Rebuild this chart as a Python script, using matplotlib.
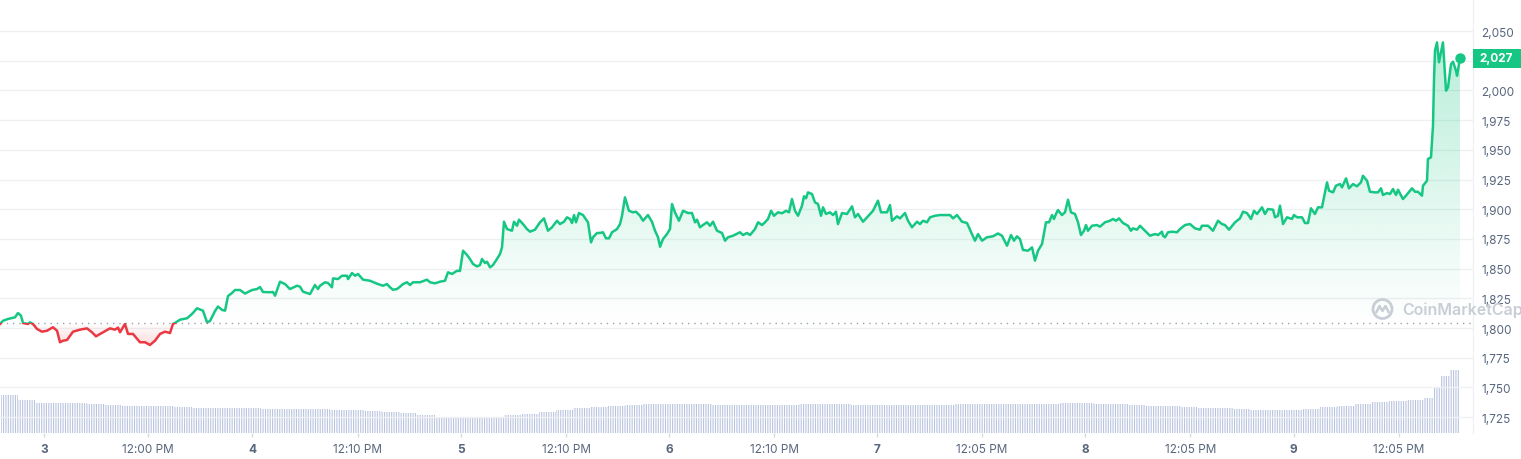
import numpy as np
import matplotlib
matplotlib.use("Agg")
import matplotlib.pyplot as plt
import matplotlib.colors as mcolors
from matplotlib.patches import Rectangle, PathPatch, Circle
from matplotlib.path import Path
from matplotlib.lines import Line2D
from matplotlib.transforms import blended_transform_factory, IdentityTransform
from matplotlib.ticker import FuncFormatter

# ---------------- data (hours since day "3" 00:00) ----------------
hours = [-5.07, -4.72, -4.15, -3.34, -3.00, -2.65, -2.42, -1.84, -1.61, -1.27, -0.81, -0.23,
         0.35, 0.69, 1.04, 1.50, 1.84, 2.19, 2.65, 3.00, 3.34, 4.15, 4.95, 5.53, 5.99, 6.80,
         7.60, 8.18, 8.53, 8.76, 9.33, 9.68, 10.25, 11.06, 11.64, 12.21, 12.79, 13.37, 13.94,
         14.52, 14.86, 15.21, 15.67, 16.48, 17.05, 17.63, 17.97, 18.32, 18.78, 19.13, 19.70,
         20.05, 20.51, 20.86, 21.20, 21.66, 22.01, 22.58, 23.16, 23.97, 24.54, 24.89, 25.23,
         26.04, 26.39, 26.62, 27.19, 27.77, 28.34, 29.15, 29.50, 29.84, 30.65, 31.22, 31.57,
         31.80, 32.38, 32.72, 33.18, 33.30, 33.87, 34.34, 34.91, 35.03, 35.49, 35.83, 36.18,
         36.76, 37.56, 38.48, 39.06, 39.52, 39.87, 40.21, 40.67, 41.02, 41.36, 41.83, 42.17,
         42.52, 43.32, 44.13, 44.48, 45.05, 45.63, 46.20, 46.55, 47.01, 47.59, 47.93, 48.28,
         48.74, 49.08, 49.43, 49.89, 50.24, 50.47, 50.81, 51.04, 51.39, 51.73, 52.19, 52.54,
         52.77, 53.00, 53.35, 53.92, 54.15, 54.50, 54.73, 55.19, 55.65, 56.00, 56.57, 57.15,
         57.61, 58.07, 58.53, 59.11, 59.45, 59.91, 60.26, 60.61, 60.84, 61.07, 61.30, 61.64,
         62.10, 62.68, 63.03, 63.26, 63.72, 64.06, 64.41, 64.75, 65.10, 65.45, 66.02, 66.37,
         66.60, 66.94, 67.40, 67.86, 68.21, 68.67, 69.02, 69.59, 70.05, 70.40, 70.75, 70.98,
         71.32, 71.78, 72.13, 72.36, 72.70, 73.16, 73.63, 74.20, 74.66, 75.01, 75.24, 75.58,
         75.93, 76.39, 76.74, 77.08, 77.54, 78.12, 78.47, 78.81, 79.39, 80.19, 80.54, 81.00,
         81.35, 81.92, 82.27, 82.73, 83.07, 83.42, 83.77, 84.11, 84.57, 85.03, 85.49, 85.84,
         86.18, 86.53, 86.88, 87.34, 87.57, 87.80, 88.03, 88.49, 88.83, 89.18, 89.53, 89.76,
         90.10, 90.56, 90.91, 91.25, 91.48, 91.95, 92.52, 93.10, 93.44, 93.79, 94.37, 94.94,
         95.52, 96.09, 96.44, 97.13, 97.48, 97.71, 98.28, 98.63, 99.20, 99.55, 100.01, 100.59,
         100.93, 101.28, 101.74, 102.09, 102.66, 103.24, 103.81, 104.39, 104.74, 105.20,
         105.77, 106.35, 106.69, 106.92, 107.27, 107.62, 108.08, 108.65, 109.34, 109.92,
         110.38, 110.96, 111.42, 111.76, 112.11, 112.45, 112.80, 113.38, 113.84, 114.18,
         114.53, 114.99, 115.10, 115.45, 115.80, 116.14, 116.37, 116.60, 116.83, 117.29,
         117.64, 117.99, 118.33, 118.79, 119.14, 119.48, 119.83, 120.06, 120.29, 120.75,
         121.33, 121.67, 122.25, 122.82, 123.17, 123.52, 123.86, 124.32, 124.90, 125.24,
         125.47, 125.94, 126.28, 126.86, 127.43, 128.01, 128.36, 128.82, 128.93, 129.16,
         129.51, 129.97, 130.54, 130.89, 131.47, 132.04, 132.62, 133.19, 133.42, 134.12,
         134.69, 135.27, 135.73, 136.07, 136.54, 137.23, 137.80, 138.15, 138.61, 139.07,
         139.42, 139.76, 140.34, 140.68, 141.03, 141.61, 141.84, 142.18, 142.41, 142.76,
         143.22, 143.79, 144.02, 144.37, 144.95, 145.29, 145.64, 145.98, 146.44, 146.79,
         147.25, 147.83, 148.06, 148.52, 148.86, 149.32, 149.56, 150.02, 150.36, 150.82,
         151.28, 151.74, 151.97, 152.44, 152.78, 153.36, 153.70, 154.05, 154.28, 154.74,
         155.09, 155.43, 155.78, 156.01, 156.58, 156.93, 157.62, 157.97, 158.31, 158.77,
         158.89, 159.35, 159.46, 159.81, 160.04, 160.16, 160.27, 160.50, 160.73, 161.08,
         161.19, 161.54, 161.77, 162.12, 162.35, 162.69, 162.81, 163.15]

price = [1803.4, 1806.1, 1807.6, 1809.0, 1812.6, 1810.4, 1804.2, 1803.4, 1804.8, 1803.4, 1799.2, 1796.9,
         1797.7, 1799.2, 1800.6, 1797.7, 1788.0, 1789.3, 1789.9, 1793.5, 1796.9, 1798.6, 1799.7, 1796.4,
         1793.0, 1796.4, 1799.7, 1798.6, 1800.3, 1796.4, 1803.4, 1795.0, 1795.0, 1788.0, 1788.0, 1785.7,
         1789.3, 1795.0, 1796.9, 1795.8, 1803.4, 1804.8, 1807.0, 1808.2, 1811.8, 1816.6, 1815.6, 1814.6,
         1804.8, 1805.9, 1814.3, 1818.1, 1815.2, 1814.6, 1826.9, 1829.5, 1832.0, 1832.0, 1829.0, 1832.0,
         1832.8, 1834.5, 1830.3, 1830.1, 1830.3, 1827.2, 1839.0, 1837.0, 1832.8, 1835.6, 1834.8, 1830.6,
         1828.6, 1836.2, 1832.8, 1835.6, 1838.5, 1837.9, 1834.3, 1841.8, 1841.2, 1844.0, 1844.0, 1841.2,
         1846.3, 1844.0, 1845.5, 1840.7, 1839.8, 1837.0, 1835.6, 1837.0, 1834.3, 1832.2, 1832.8, 1834.8,
         1837.0, 1838.5, 1836.2, 1838.5, 1838.5, 1840.7, 1838.5, 1837.6, 1839.0, 1839.8, 1846.9, 1845.5,
         1848.2, 1848.0, 1865.1, 1861.5, 1858.1, 1853.9, 1851.9, 1853.0, 1858.1, 1854.7, 1855.8, 1851.1,
         1853.0, 1858.1, 1862.3, 1867.9, 1889.5, 1883.3, 1881.9, 1889.5, 1886.1, 1891.2, 1887.5, 1883.3,
         1881.1, 1882.8, 1889.0, 1892.3, 1881.9, 1884.8, 1890.3, 1887.5, 1889.5, 1893.2, 1891.8, 1888.4,
         1895.1, 1889.0, 1896.8, 1895.1, 1889.0, 1872.1, 1876.4, 1880.0, 1880.0, 1880.6, 1875.5, 1875.5,
         1880.6, 1883.3, 1887.5, 1894.5, 1910.0, 1898.7, 1897.4, 1897.9, 1894.5, 1890.3, 1895.1, 1889.5,
         1881.9, 1876.4, 1868.4, 1874.9, 1879.1, 1883.3, 1904.4, 1897.4, 1890.3, 1898.7, 1896.8, 1896.8,
         1889.0, 1891.2, 1884.8, 1886.7, 1889.0, 1886.1, 1889.5, 1881.9, 1880.0, 1873.5, 1876.4, 1877.7,
         1880.6, 1878.3, 1880.0, 1878.3, 1883.3, 1889.0, 1886.7, 1889.0, 1891.8, 1898.7, 1894.5, 1897.4,
         1896.6, 1898.7, 1897.4, 1908.6, 1898.7, 1894.5, 1903.0, 1910.9, 1909.2, 1914.2, 1912.8, 1905.8,
         1904.4, 1894.5, 1901.6, 1896.0, 1897.4, 1895.1, 1897.9, 1887.5, 1896.8, 1896.0, 1902.4, 1893.2,
         1896.0, 1889.5, 1894.0, 1898.7, 1907.2, 1897.4, 1897.4, 1903.5, 1890.3, 1894.0, 1892.3, 1896.8,
         1890.3, 1884.8, 1889.5, 1887.5, 1890.3, 1889.0, 1893.2, 1894.5, 1895.1, 1895.1, 1895.1, 1892.3,
         1895.1, 1889.5, 1888.4, 1882.8, 1879.1, 1873.5, 1879.1, 1873.5, 1876.4, 1877.2, 1879.6, 1877.7,
         1869.3, 1878.3, 1873.5, 1877.2, 1874.9, 1865.7, 1865.1, 1867.9, 1856.7, 1865.1, 1870.7, 1874.9,
         1889.0, 1889.0, 1895.1, 1891.8, 1896.0, 1899.3, 1895.1, 1897.4, 1908.0, 1897.4, 1896.0, 1889.0,
         1878.3, 1881.9, 1886.7, 1881.9, 1886.1, 1886.7, 1885.3, 1889.0, 1890.3, 1891.8, 1890.3, 1892.3,
         1888.4, 1886.1, 1881.9, 1883.9, 1882.8, 1886.1, 1881.9, 1877.7, 1879.1, 1878.3, 1881.1, 1877.7,
         1876.4, 1880.6, 1881.1, 1880.6, 1883.3, 1886.7, 1887.5, 1883.9, 1882.8, 1886.1, 1886.1, 1881.9,
         1890.3, 1887.5, 1886.7, 1882.8, 1889.0, 1892.3, 1897.9, 1896.8, 1891.8, 1898.7, 1896.0, 1901.6,
         1896.0, 1900.2, 1899.6, 1893.2, 1894.5, 1903.0, 1887.5, 1893.2, 1891.8, 1895.1, 1893.2, 1893.2,
         1888.4, 1888.4, 1900.8, 1896.0, 1901.6, 1901.6, 1922.6, 1915.6, 1914.2, 1919.8, 1921.2, 1918.4,
         1926.0, 1917.6, 1921.2, 1919.3, 1922.6, 1928.2, 1924.0, 1914.7, 1914.2, 1914.2, 1917.6, 1912.0,
         1913.6, 1912.8, 1917.0, 1912.0, 1916.4, 1908.6, 1911.4, 1917.6, 1914.7, 1914.7, 1911.4, 1919.8,
         1924.0, 1942.3, 1943.7, 1970.3, 2009.6, 2033.4, 2040.5, 2023.7, 2036.3, 2040.5, 1999.8, 2002.6,
         2022.2, 2024.2, 2016.6, 2012.4, 2027.0]

baseline_price = 1804.2

# volume (billions USD), bars with left edges in hours
vol_edges = [-5, -3, -1, 1, 3, 5, 7, 9, 11, 13, 15, 17, 19, 21, 23, 25, 27, 29, 31, 33, 35, 37, 39,
             41, 43, 45, 47, 49, 51, 53, 55, 57, 59, 61, 63, 65, 67, 69, 71, 73, 75, 77, 79, 81, 83,
             85, 87, 89, 91, 93, 95, 97, 99, 101, 103, 105, 107, 109, 111, 113, 115, 117, 119, 121,
             123, 125, 127, 129, 131, 133, 135, 137, 139, 141, 143, 145, 147, 149, 151, 153, 155,
             156, 157, 158, 159, 160, 161, 162, 163]
volume = [11.55, 10.05, 9.15, 9.0, 9.0, 8.7, 8.55, 8.1, 8.1, 8.1, 7.8, 7.5, 7.5, 7.5, 7.5, 7.35,
          7.2, 7.2, 7.2, 7.05, 6.9, 6.6, 6.45, 6.0, 5.4, 4.95, 4.71, 4.89, 4.95, 5.4, 5.85, 6.3,
          6.9, 7.5, 7.95, 8.25, 8.55, 8.7, 8.85, 8.85, 8.7, 8.55, 8.55, 8.55, 8.55, 8.55, 8.7, 8.7,
          8.7, 8.55, 8.55, 8.55, 8.55, 8.55, 8.55, 8.7, 8.85, 8.7, 8.7, 8.7, 8.85, 9.0, 9.0, 8.85,
          8.7, 8.4, 8.25, 8.1, 7.95, 7.65, 7.5, 7.2, 7.05, 6.9, 6.9, 7.2, 7.8, 8.25, 8.7, 9.3,
          9.69, 9.75, 9.9, 10.05, 10.65, 13.5, 17.1, 18.9]

y_ticks = [1725, 1750, 1775, 1800, 1825, 1850, 1875, 1900, 1925, 1950, 1975, 2000, 2025, 2050]
x_tick_hours = [0, 12.0, 24, 36.167, 48, 60.167, 72, 84.167, 96, 108.083, 120, 132.083, 144, 156.083]
x_tick_labels = ["3", "12:00 PM", "4", "12:10 PM", "5", "12:10 PM", "6", "12:10 PM",
                 "7", "12:05 PM", "8", "12:05 PM", "9", "12:05 PM"]

# ---------------- style ----------------
plt.rcParams['font.family'] = ['Inter', 'DejaVu Sans']
plt.rcParams['hatch.linewidth'] = 0.8
GREEN = '#16c784'
RED = '#ea3943'
GRID = '#eef0f3'
TXT = '#58667e'
VOLC = '#b9c4df'

W, H = 1521, 460
fig = plt.figure(figsize=(W / 100, H / 100), dpi=100)
fig.patch.set_facecolor('white')

ax_left, ax_right = 0, 1473
ax_bottom_px = 434
ax_vol = fig.add_axes([ax_left / W, (H - ax_bottom_px) / H, (ax_right - ax_left) / W, 100 / H])
ax = fig.add_axes([ax_left / W, (H - ax_bottom_px) / H, (ax_right - ax_left) / W, ax_bottom_px / H])
ax.patch.set_alpha(0)
ax.set_zorder(2)
ax_vol.set_zorder(1)

t = np.array(hours)
p = np.array(price)
XLIM = (-5.07, 164.65)
YLIM = (1711.6, 2077.0)

# volume bars
edges = np.array(vol_edges, dtype=float)
ax_vol.bar(edges[:-1], volume, width=np.diff(edges), align='edge', facecolor='none',
           edgecolor=VOLC, linewidth=0, hatch='|' * 7)
ax_vol.set_xlim(*XLIM)
ax_vol.set_ylim(0, 30)
ax_vol.axis('off')


def gradient_area(ax, t, p, base, where, color, a_far, far):
    coll = ax.fill_between(t, p, base, where=where, interpolate=True)
    paths = coll.get_paths()
    coll.remove()
    clip = PathPatch(Path.make_compound_path(*paths), transform=ax.transData,
                     facecolor='none', edgecolor='none')
    ax.add_patch(clip)
    rgb = mcolors.to_rgb(color)
    n = 256
    img = np.zeros((n, 1, 4))
    img[..., :3] = rgb
    lo, hi = sorted([base, far])
    img[:, 0, 3] = np.linspace(0, a_far, n) if far > base else np.linspace(a_far, 0, n)
    im = ax.imshow(img, extent=[t[0], t[-1], lo, hi], origin='lower', aspect='auto',
                   zorder=1, interpolation='bilinear')
    im.set_clip_path(clip)


gradient_area(ax, t, p, baseline_price, p >= baseline_price, GREEN, 0.30, p.max())
gradient_area(ax, t, p, baseline_price, p <= baseline_price, RED, 0.18, p.min())

# price line coloured above / below baseline
up = Rectangle((-100, baseline_price), 400, 1000, transform=ax.transData)
dn = Rectangle((-100, baseline_price - 1000), 400, 1000, transform=ax.transData)
lg, = ax.plot(t, p, color=GREEN, lw=1.8, zorder=3, solid_joinstyle='round')
lg.set_clip_path(up)
lr, = ax.plot(t, p, color=RED, lw=1.8, zorder=3, solid_joinstyle='round')
lr.set_clip_path(dn)
ax.plot(t[-1:], p[-1:], 'o', color=GREEN, ms=6.5, zorder=4, clip_on=False)

# baseline
ax.axhline(baseline_price, color='#99a1ae', lw=1.0, linestyle=(0, (1, 3.5)), zorder=2)

# axes styling
ax.set_xlim(*XLIM)
ax.set_ylim(*YLIM)
ax.set_yticks(y_ticks)
ax.yaxis.set_major_formatter(FuncFormatter(lambda v, _: f'{v:,.0f}'))
ax.yaxis.tick_right()
ax.yaxis.grid(True, color=GRID, lw=1)
ax.set_axisbelow(True)
ax.tick_params(axis='y', length=0, pad=6, labelsize=8.5, labelcolor=TXT)
ax.set_xticks(x_tick_hours)
ax.set_xticklabels(x_tick_labels)
ax.tick_params(axis='x', length=3, width=1, color='#d5dae3', pad=4, labelsize=8.5, labelcolor=TXT)
for lbl in ax.get_xticklabels():
    if lbl.get_text().isdigit():
        lbl.set_fontweight('bold')
for s in ['top', 'left', 'bottom']:
    ax.spines[s].set_visible(False)
ax.spines['right'].set_color(GRID)
ax.spines['right'].set_linewidth(1)

# current price label
bt = blended_transform_factory(fig.transFigure, ax.transData)
box_h = 19 * (YLIM[1] - YLIM[0]) / ax_bottom_px
fig.add_artist(Rectangle((1473 / W, p[-1] - box_h / 2), 48 / W, box_h, transform=bt,
                         facecolor=GREEN, edgecolor='none', zorder=5))
fig.text(1496 / W, p[-1], f'{p[-1]:,.0f}', transform=bt, ha='center', va='center',
         color='white', fontsize=8.5, fontweight='bold', zorder=6)

# watermark
wm = '#c9ced6'
fig.text(1402 / W, 1 - 310 / H, 'CoinMarketCap', fontsize=11.5, color=wm,
         fontweight='semibold', ha='left', va='center', zorder=6)
fig.add_artist(Circle((1382.5, H - 310), 9.5, transform=IdentityTransform(),
                      facecolor='none', edgecolor=wm, lw=2.0, zorder=6))
cx, cy = 1382.5, H - 310
fig.add_artist(Line2D([cx - 6, cx - 3, cx, cx + 3, cx + 6], [cy - 3, cy + 3, cy - 2, cy + 3, cy - 3],
                      transform=IdentityTransform(), color=wm, lw=1.8, zorder=6))

fig.savefig('out.png', dpi=100)
